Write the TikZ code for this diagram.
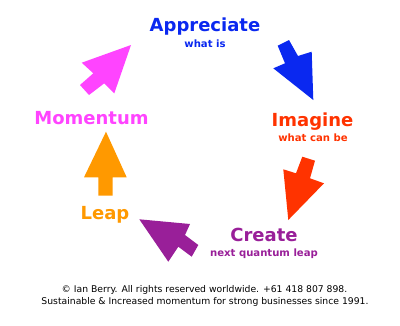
\documentclass[tikz,border=0pt]{standalone}
\usepackage{fontspec}
\setmainfont{DejaVu Sans}
\usepackage{xcolor}
\usetikzlibrary{positioning}

\definecolor{appblue}{HTML}{0A28F0}
\definecolor{imgred}{HTML}{FF3300}
\definecolor{crepurple}{HTML}{991F99}
\definecolor{leaporange}{HTML}{FF9900}
\definecolor{mompink}{HTML}{FF44FF}

\tikzset{
  title/.style={inner sep=0pt, anchor=base, font=\fontsize{18}{18}\selectfont\bfseries},
  sub/.style={inner sep=0pt, anchor=base, font=\fontsize{10.1}{10}\selectfont\bfseries},
  foot/.style={inner sep=0pt, anchor=base, font=\fontsize{9.25}{10}\selectfont},
}

\begin{document}
\begin{tikzpicture}[x=1pt, y=-1pt]
    \useasboundingbox[fill=white] (0,0) rectangle (400,325);

    % stages
    \node[title, text=appblue] (appreciate) at (205,31) {Appreciate};
    \node[sub, text=appblue] (appsub) at (205,47) {what is};
    \node[title, text=imgred] (imagine) at (312.5,126) {Imagine};
    \node[sub, text=imgred] (imgsub) at (313,141.5) {what can be};
    \node[title, text=crepurple] (create) at (264,241) {Create};
    \node[sub, text=crepurple] (cresub) at (264,256.5) {next quantum leap};
    \node[title, text=leaporange] (leap) at (105,219) {Leap};
    \node[title, text=mompink] (momentum) at (91.5,124) {Momentum};

    % block arrows
    \fill[appblue] (277.7,45.7) -- (289,40) -- (298,56) -- (311.7,51.7)
        -- (313.3,100) -- (273.3,68.3) -- (285,63.3) -- cycle;
    \fill[imgred] (302.3,156.7) -- (315,160.7) -- (310,178.3) -- (324,183.3)
        -- (288.3,220) -- (283.3,169.3) -- (296,173.3) -- cycle;
    \fill[crepurple] (139.3,219.3) -- (190,224) -- (185,235) -- (198.3,245)
        -- (191.7,256.7) -- (178.3,246.7) -- (168.3,261.7) -- cycle;
    \fill[leaporange] (106,131.7) -- (126.7,177.3) -- (112.7,177.3) -- (112.7,195.7)
        -- (98.3,195.7) -- (98.3,177.3) -- (84,177.3) -- cycle;
    \fill[mompink] (131,45) -- (114.3,93.3) -- (104.3,83.3) -- (89,95)
        -- (80,85) -- (93.3,73.3) -- (81.7,62.7) -- cycle;

    % footer
    \node[foot] (copy) at (204.5,292.7) {© Ian Berry. All rights reserved worldwide. +61 418 807 898.};
    \node[foot] (since) at (205,304.3) {Sustainable \& Increased momentum for strong businesses since 1991.};
\end{tikzpicture}
\end{document}
